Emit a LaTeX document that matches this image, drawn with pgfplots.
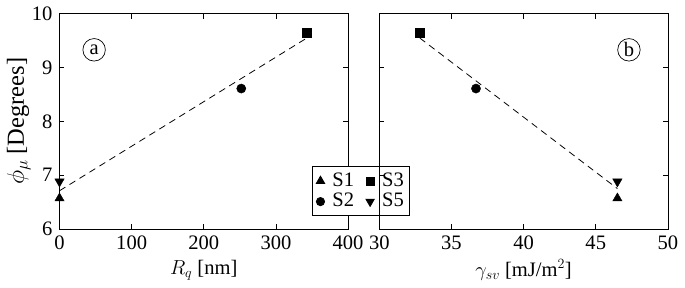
\documentclass[border=0pt]{standalone}
\usepackage{fontspec}
\setmainfont{Liberation Serif}
\usepackage{pgfplots}
\pgfplotsset{compat=1.18}
\begin{document}
\fontsize{21}{24}\selectfont
\begin{tikzpicture}
\pgfplotsset{
  every axis/.append style={
    width=295pt, height=220pt, scale only axis,
    axis line style={line width=0.8pt},
    tick style={line width=0.8pt, black},
    major tick length=5pt,
    tick align=inside,
    xtick pos=both, ytick pos=both,
    ymin=6, ymax=10, ytick={6,7,8,9,10},
    /pgf/number format/assume math mode=true,
    ticklabel style={font=\fontsize{21}{24}\selectfont},
    xlabel style={font=\fontsize{21}{24}\selectfont, yshift=4pt},
    ylabel style={font=\fontsize{25}{28}\selectfont},
    ylabel shift=-13pt,
  },
  tri/.style={only marks, mark=triangle*, mark size=5.5pt, black},
  itri/.style={only marks, mark=triangle*, mark options={rotate=180}, mark size=5.5pt, black},
  sq/.style={only marks, mark=square*, mark size=4.6pt, black},
  circ/.style={only marks, mark=*, mark size=4.7pt, black},
}
\begin{axis}[name=A,
  xmin=0, xmax=400, xtick={0,100,200,300,400},
  xlabel={$R_q$ [nm]}, ylabel={$\phi_\mu$ [Degrees]},
  legend columns=2,
  legend style={at={(rel axis cs:1.045,0.175)}, anchor=center, draw=black, line width=0.8pt,
    font=\fontsize{21}{24}\selectfont, inner xsep=4pt, inner ysep=4pt, fill=white,
    /tikz/every odd column/.append style={column sep=6pt},
    /tikz/every even column/.append style={column sep=10pt}},
  legend image post style={scale=0.9},
  legend cell align=left,
  clip=false,
]
\addplot[black, dashed, dash pattern=on 7pt off 5pt, line width=0.8pt, forget plot] coordinates {(0,6.71) (343,9.55)};
\addplot[tri] coordinates {(0,6.57)};
\addlegendentry{S1}
\addplot[sq] coordinates {(343,9.65)};
\addlegendentry{S3}
\addplot[circ] coordinates {(252,8.61)};
\addlegendentry{S2}
\addplot[itri] coordinates {(0,6.88)};
\addlegendentry{S5}
\node[draw, circle, line width=0.7pt, inner sep=1pt, minimum size=23pt, font=\fontsize{21}{24}\selectfont] at (axis cs:48,9.33) {a};
\end{axis}
\begin{axis}[at={(A.south east)}, anchor=south west, xshift=32pt,
  xmin=30, xmax=50, xtick={30,35,40,45,50},
  yticklabels={},
  xlabel={$\gamma_{sv}$ [mJ/m$^2$]},
  clip=false,
]
\addplot[black, dashed, dash pattern=on 7pt off 5pt, line width=0.8pt] coordinates {(32.8,9.55) (46.5,6.75)};
\addplot[sq] coordinates {(32.8,9.65)};
\addplot[circ] coordinates {(36.7,8.61)};
\addplot[itri] coordinates {(46.5,6.88)};
\addplot[tri] coordinates {(46.5,6.57)};
\node[draw, circle, line width=0.7pt, inner sep=1pt, minimum size=23pt, font=\fontsize{21}{24}\selectfont] at (axis cs:47.3,9.33) {b};
\end{axis}
\end{tikzpicture}
\end{document}
